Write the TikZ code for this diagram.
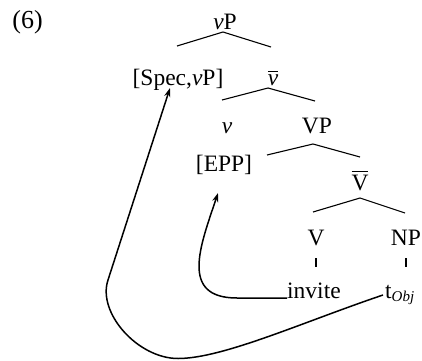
\documentclass[tikz,border=0pt]{standalone}
\usepackage{fontspec}
\setmainfont{Liberation Serif}
\usetikzlibrary{arrows.meta,calc}
\newcommand{\barred}[1]{\leavevmode\vbox{\hrule height 1pt\kern 2.5pt\hbox{#1}}}
\begin{document}
\begin{tikzpicture}[x=1pt,y=1pt,
  every node/.style={font=\fontsize{23.5}{28}\selectfont, inner sep=0pt, anchor=base},
  branch/.style={line width=1.1pt},
  move/.style={line width=1.5pt, -{Stealth[length=9pt,width=6pt]}}]
\useasboundingbox (0,0) rectangle (422,360);
% labels
\node[font=\fontsize{26}{30}\selectfont] (six) at (27.5,332) {(6)};
\node (vP) at (225,331) {\textit{v}P};
\node (spec) at (178,275) {[Spec,\textit{v}P]};
\node (vbar) at (273,275) {\barred{\textit{v}}};
\node (v) at (227,227) {\textit{v}};
\node (VP) at (317,227) {VP};
\node (epp) at (224,189) {[EPP]};
\node (Vbar) at (360,170) {\barred{V}};
\node (V) at (316,115) {V};
\node (NP) at (406,115) {NP};
\node[anchor=base west] (invite) at (287,62) {invite};
\node[anchor=base west] (tobj) at (385,62) {t\raisebox{-3pt}{\fontsize{15}{15}\selectfont\textit{Obj}}};
% branches
\draw[branch] ($(spec.base)+(-1,39)$) -- ($(vP.base)+(-2,-3)$) -- ($(vbar.base)+(-2,38)$);
\draw[branch] ($(v.base)+(-5,33)$) -- ($(vbar.base)+(-5,-3)$) -- ($(VP.base)+(-2,32)$);
\draw[branch] ($(VP.base)+(-50,-22)$) -- ($(VP.base)+(-4,-11)$) -- ($(Vbar.base)+(0,33)$);
\draw[branch] ($(V.base)+(-3,33)$) -- ($(Vbar.base)+(0,-8)$) -- ($(NP.base)+(-1,32)$);
\draw[branch] ($(V.base)+(0,-13)$) -- ($(V.base)+(0,-22)$);
\draw[branch] ($(NP.base)+(0,-13)$) -- ($(NP.base)+(0,-22)$);
% movement arrows
\coordinate (eppTip) at ($(epp.base)+(-6,-22)$);
\coordinate (specTip) at ($(spec.base)+(-8,-3)$);
\coordinate (tS) at ($(tobj.base west)+(-2,3)$);
\coordinate (low) at (178,1.5);
\coordinate (lft) at (108,80);
\draw[move] (invite.base west) -- ($(invite.base west)+(-50,0)$)
  .. controls ($(invite.base west)+(-108,0)$) and ($(eppTip)+(-17.4,-52.2)$) .. (eppTip);
\draw[move] (tS) .. controls (303,38) and (223,1.5) .. (low)
  .. controls (138,1.5) and (97,47) .. (lft) -- (specTip);
\end{tikzpicture}
\end{document}
